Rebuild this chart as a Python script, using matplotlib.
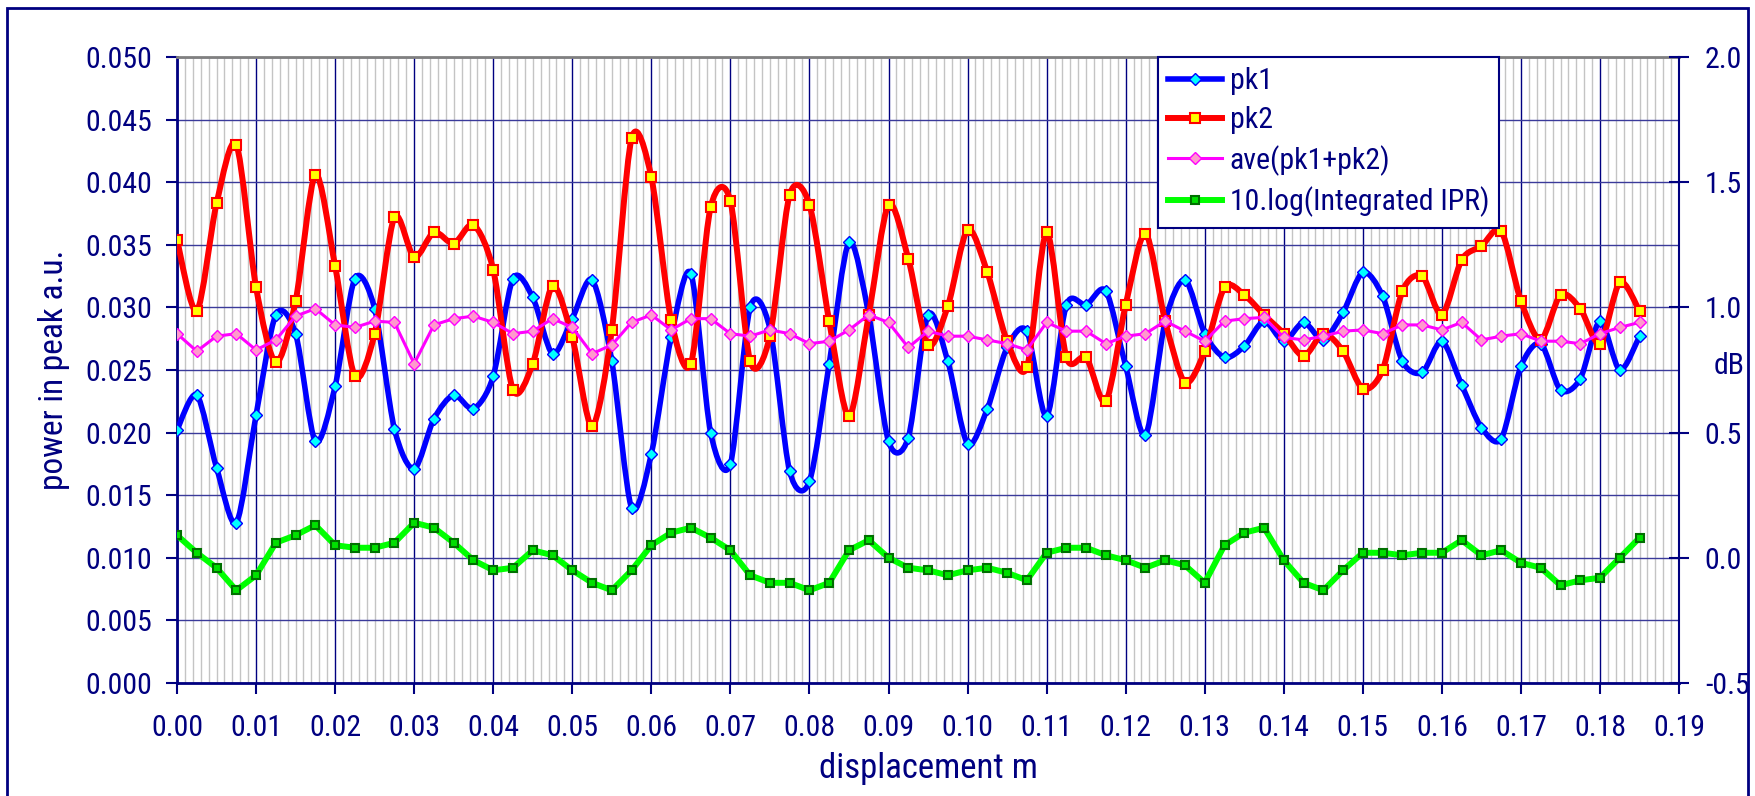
import numpy as np
import matplotlib
matplotlib.use('Agg')
import matplotlib.pyplot as plt
from matplotlib.path import Path
from matplotlib.patches import PathPatch, Rectangle
from matplotlib.lines import Line2D
from matplotlib.ticker import MultipleLocator, FormatStrFormatter

plt.rcParams['font.family'] = ['Roboto Condensed', 'Liberation Sans', 'DejaVu Sans']

# desplazamiento (m), un punto cada 2.5 mm
displacement = [
    0.0000, 0.0025, 0.0050, 0.0075, 0.0100, 0.0125, 0.0150, 0.0175, 0.0200, 0.0225,
    0.0250, 0.0275, 0.0300, 0.0325, 0.0350, 0.0375, 0.0400, 0.0425, 0.0450, 0.0475,
    0.0500, 0.0525, 0.0550, 0.0575, 0.0600, 0.0625, 0.0650, 0.0675, 0.0700, 0.0725,
    0.0750, 0.0775, 0.0800, 0.0825, 0.0850, 0.0875, 0.0900, 0.0925, 0.0950, 0.0975,
    0.1000, 0.1025, 0.1050, 0.1075, 0.1100, 0.1125, 0.1150, 0.1175, 0.1200, 0.1225,
    0.1250, 0.1275, 0.1300, 0.1325, 0.1350, 0.1375, 0.1400, 0.1425, 0.1450, 0.1475,
    0.1500, 0.1525, 0.1550, 0.1575, 0.1600, 0.1625, 0.1650, 0.1675, 0.1700, 0.1725,
    0.1750, 0.1775, 0.1800, 0.1825, 0.1850,
]

pk1 = [
    0.0202, 0.0230, 0.0172, 0.0128, 0.0214, 0.0294, 0.0279, 0.0193, 0.0237, 0.0323,
    0.0299, 0.0203, 0.0171, 0.0211, 0.0230, 0.0219, 0.0245, 0.0323, 0.0308, 0.0263,
    0.0291, 0.0322, 0.0257, 0.0140, 0.0183, 0.0276, 0.0327, 0.0200, 0.0175, 0.0300,
    0.0283, 0.0169, 0.0161, 0.0255, 0.0352, 0.0294, 0.0193, 0.0196, 0.0294, 0.0257,
    0.0191, 0.0219, 0.0268, 0.0281, 0.0213, 0.0302, 0.0302, 0.0313, 0.0253, 0.0198,
    0.0289, 0.0322, 0.0279, 0.0260, 0.0269, 0.0289, 0.0273, 0.0288, 0.0274, 0.0296,
    0.0328, 0.0309, 0.0257, 0.0248, 0.0273, 0.0238, 0.0204, 0.0195, 0.0253, 0.0271,
    0.0234, 0.0243, 0.0289, 0.0250, 0.0277,
]

pk2 = [
    0.0354, 0.0297, 0.0383, 0.0430, 0.0316, 0.0256, 0.0305, 0.0406, 0.0333, 0.0245,
    0.0279, 0.0372, 0.0340, 0.0360, 0.0351, 0.0366, 0.0330, 0.0234, 0.0255, 0.0317,
    0.0276, 0.0205, 0.0282, 0.0435, 0.0404, 0.0290, 0.0255, 0.0380, 0.0385, 0.0257,
    0.0277, 0.0390, 0.0382, 0.0289, 0.0213, 0.0294, 0.0382, 0.0339, 0.0270, 0.0301,
    0.0362, 0.0328, 0.0273, 0.0252, 0.0360, 0.0260, 0.0260, 0.0225, 0.0302, 0.0359,
    0.0289, 0.0240, 0.0265, 0.0316, 0.0310, 0.0294, 0.0279, 0.0261, 0.0279, 0.0265,
    0.0235, 0.0250, 0.0313, 0.0325, 0.0294, 0.0338, 0.0349, 0.0361, 0.0305, 0.0274,
    0.0310, 0.0299, 0.0271, 0.0320, 0.0297,
]

ave = [
    0.0279, 0.0265, 0.0277, 0.0279, 0.0266, 0.0274, 0.0293, 0.0299, 0.0286, 0.0284,
    0.0289, 0.0288, 0.0255, 0.0286, 0.0291, 0.0293, 0.0288, 0.0279, 0.0281, 0.0291,
    0.0284, 0.0263, 0.0270, 0.0288, 0.0294, 0.0282, 0.0291, 0.0291, 0.0279, 0.0277,
    0.0282, 0.0279, 0.0271, 0.0273, 0.0282, 0.0294, 0.0288, 0.0268, 0.0281, 0.0277,
    0.0277, 0.0274, 0.0271, 0.0266, 0.0288, 0.0281, 0.0281, 0.0271, 0.0277, 0.0279,
    0.0289, 0.0281, 0.0273, 0.0289, 0.0291, 0.0292, 0.0276, 0.0274, 0.0277, 0.0281,
    0.0282, 0.0279, 0.0286, 0.0286, 0.0282, 0.0288, 0.0274, 0.0277, 0.0279, 0.0273,
    0.0273, 0.0271, 0.0279, 0.0284, 0.0288,
]

# 10.log(IPR integrado), eje derecho en dB
ipr_db = [
    0.09, 0.02, -0.04, -0.13, -0.07, 0.06, 0.09, 0.13, 0.05, 0.04,
    0.04, 0.06, 0.14, 0.12, 0.06, -0.01, -0.05, -0.04, 0.03, 0.01,
    -0.05, -0.10, -0.13, -0.05, 0.05, 0.10, 0.12, 0.08, 0.03, -0.07,
    -0.10, -0.10, -0.13, -0.10, 0.03, 0.07, 0.00, -0.04, -0.05, -0.07,
    -0.05, -0.04, -0.06, -0.09, 0.02, 0.04, 0.04, 0.01, -0.01, -0.04,
    -0.01, -0.03, -0.10, 0.05, 0.10, 0.12, -0.01, -0.10, -0.13, -0.05,
    0.02, 0.02, 0.01, 0.02, 0.02, 0.07, 0.01, 0.03, -0.02, -0.04,
    -0.11, -0.09, -0.08, 0.00, 0.08,
]

NAVY = '#000080'
FS = 21.5


# curva suave tipo hoja de calculo (bezier entre puntos consecutivos)
def curva_suave(x, y, k=7.0):
    pts = np.column_stack([x, y])
    n = len(pts)
    verts = [pts[0]]
    codes = [Path.MOVETO]
    for i in range(n - 1):
        p0 = pts[max(i - 1, 0)]
        p1 = pts[i]
        p2 = pts[i + 1]
        p3 = pts[min(i + 2, n - 1)]
        verts += [p1 + (p2 - p0) / k, p2 - (p3 - p1) / k, p2]
        codes += [Path.CURVE4] * 3
    return Path(verts, codes)


fig = plt.figure(figsize=(17.56, 7.96), dpi=100)
ax = fig.add_axes([0.1008, 0.142, 0.8554, 0.7864])
ax2 = ax.twinx()

ax.set_xlim(0, 0.19)
ax.set_ylim(0, 0.05)
ax2.set_ylim(-0.5, 2.0)

# rejilla
ax.xaxis.set_major_locator(MultipleLocator(0.01))
ax.xaxis.set_minor_locator(MultipleLocator(0.001))
ax.yaxis.set_major_locator(MultipleLocator(0.005))
ax2.yaxis.set_major_locator(MultipleLocator(0.5))
ax.xaxis.set_major_formatter(FormatStrFormatter('%.2f'))
ax.yaxis.set_major_formatter(FormatStrFormatter('%.3f'))
ax2.yaxis.set_major_formatter(FormatStrFormatter('%.1f'))
ax.set_axisbelow(True)
ax.grid(which='minor', axis='x', color='#c4c4c4', lw=1.0)
ax.grid(which='major', axis='x', color=NAVY, lw=1.0)
ax.grid(which='major', axis='y', color='#3a3a9a', lw=1.0)

# series
ax.add_patch(PathPatch(curva_suave(displacement, pk1), fc='none', ec='#0000ff', lw=4.0,
                       capstyle='round', joinstyle='round', zorder=3))
ax.plot(displacement, pk1, ls='none', marker='D', ms=5.8, mfc='#00ffff', mec='#0000ff', mew=1.0, zorder=3.1)

ax.add_patch(PathPatch(curva_suave(displacement, pk2), fc='none', ec='#ff0000', lw=4.3,
                       capstyle='round', joinstyle='round', zorder=4))
ax.plot(displacement, pk2, ls='none', marker='s', ms=7.5, mfc='#ffff00', mec='#ff0000', mew=1.5, zorder=4.1)

ax.plot(displacement, ave, color='#ff00ff', lw=2.2, marker='D', ms=5.8, mfc='#ff99cc', mec='#ff00ff',
        mew=1.0, zorder=5)

ax2.plot(displacement, ipr_db, color='#00ff00', lw=4.3, marker='s', ms=5.5, mfc='#00e000', mec='#007000',
         mew=1.5, zorder=6)

# ejes
for s in ['left', 'bottom']:
    ax.spines[s].set_color(NAVY)
    ax.spines[s].set_linewidth(2)
ax.spines['top'].set_color('#808080')
ax.spines['top'].set_linewidth(2)
ax.spines['right'].set_visible(False)
ax2.spines['right'].set_color(NAVY)
ax2.spines['right'].set_linewidth(1.5)
for s in ['left', 'bottom', 'top']:
    ax2.spines[s].set_visible(False)

ax.tick_params(axis='y', which='major', direction='out', length=8, width=1.5, color=NAVY,
               labelcolor=NAVY, labelsize=FS, pad=10)
ax.tick_params(axis='x', which='major', direction='out', length=8, width=1.5, color=NAVY,
               labelcolor=NAVY, labelsize=FS, pad=14)
ax.tick_params(axis='x', which='minor', length=0)
ax2.tick_params(axis='y', direction='inout', length=15, width=1.5, color=NAVY,
                labelcolor=NAVY, labelsize=FS, pad=11)

ax.set_xlabel('displacement m', fontsize=25, color=NAVY)
ax.xaxis.set_label_coords(0.5, -0.137)
ax.xaxis.label.set_va('center')
ax.set_ylabel('power in peak a.u.', fontsize=24, color=NAVY)
ax.yaxis.set_label_coords(-0.082, 0.5)
ax.yaxis.label.set_va('center')
ax2.set_ylabel('dB', fontsize=FS, color=NAVY, rotation=0)
ax2.yaxis.set_label_coords(1.023, 0.506)
ax2.yaxis.label.set_ha('left')
ax2.yaxis.label.set_va('center')

# leyenda
handles = [
    Line2D([], [], color='#0000ff', lw=4.0, marker='D', ms=5.8, mfc='#00ffff', mec='#0000ff', mew=1.0),
    Line2D([], [], color='#ff0000', lw=4.3, marker='s', ms=7.5, mfc='#ffff00', mec='#ff0000', mew=1.5),
    Line2D([], [], color='#ff00ff', lw=2.2, marker='D', ms=5.8, mfc='#ff99cc', mec='#ff00ff', mew=1.0),
    Line2D([], [], color='#00ff00', lw=4.3, marker='s', ms=5.5, mfc='#00e000', mec='#007000', mew=1.5),
]
labels = ['pk1', 'pk2', 'ave(pk1+pk2)', '10.log(Integrated IPR)']
leg = ax2.legend(handles, labels, loc='upper left', bbox_to_anchor=(0.653, 1.0), borderaxespad=0,
                 fontsize=FS, frameon=True, fancybox=False, framealpha=1, edgecolor=NAVY,
                 handlelength=1.8, handletextpad=0.25, labelspacing=0.36, borderpad=0.35)
leg.get_frame().set_linewidth(1.5)
for t in leg.get_texts():
    t.set_color(NAVY)
leg.set_zorder(20)

# marco exterior
fig.patches.append(Rectangle((0.004, -0.02), 0.9915, 1.01, transform=fig.transFigure,
                             fill=False, ec=NAVY, lw=2))

fig.savefig('out.png', dpi=100)
